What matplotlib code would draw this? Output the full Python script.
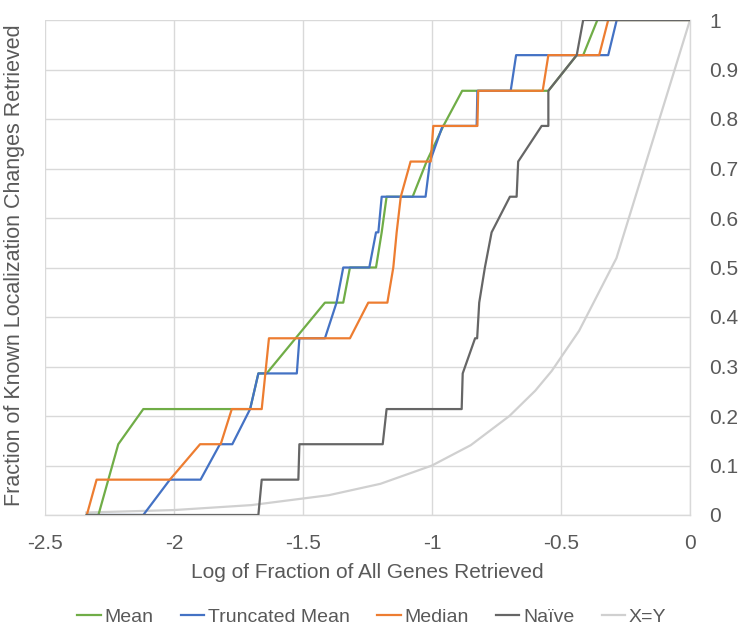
import matplotlib
matplotlib.use("Agg")
import matplotlib.pyplot as plt
from matplotlib import font_manager

# ---- data ----
mean_x = [-2.338, -2.293, -2.216, -2.119, -1.705, -1.673, -1.641, -1.415, -1.344, -1.318, -1.217,
          -1.195, -1.176, -1.075, -1.021, -0.956, -0.883, -0.549, -0.439, -0.414, -0.359, 0.0]
mean_y = [0, 0, 0.143, 0.214, 0.214, 0.286, 0.286, 0.429, 0.429, 0.5, 0.5,
          0.571, 0.643, 0.643, 0.714, 0.786, 0.857, 0.857, 0.929, 0.929, 1.0, 1.0]

trunc_x = [-2.338, -2.119, -2.016, -1.897, -1.822, -1.774, -1.705, -1.673, -1.524, -1.514, -1.415,
           -1.370, -1.344, -1.243, -1.217, -1.208, -1.195, -1.025, -1.008, -0.959, -0.827, -0.824,
           -0.695, -0.674, -0.317, -0.284, 0.0]
trunc_y = [0, 0, 0.0714, 0.0714, 0.143, 0.143, 0.214, 0.286, 0.286, 0.357, 0.357,
           0.429, 0.5, 0.5, 0.571, 0.571, 0.643, 0.643, 0.714, 0.786, 0.786, 0.857,
           0.857, 0.929, 0.929, 1.0, 1.0]

median_x = [-2.338, -2.300, -2.016, -1.899, -1.819, -1.776, -1.660, -1.632, -1.318, -1.247, -1.173,
            -1.150, -1.137, -1.121, -1.083, -1.005, -0.995, -0.824, -0.821, -0.571, -0.549, -0.352,
            -0.317, 0.0]
median_y = [0, 0.0714, 0.0714, 0.143, 0.143, 0.214, 0.214, 0.357, 0.357, 0.429, 0.429,
            0.5, 0.571, 0.643, 0.714, 0.714, 0.786, 0.786, 0.857, 0.857, 0.929, 0.929,
            1.0, 1.0]

naive_x = [-2.338, -1.673, -1.660, -1.518, -1.514, -1.191, -1.176, -0.885, -0.881, -0.833, -0.825,
           -0.817, -0.795, -0.769, -0.698, -0.672, -0.666, -0.575, -0.549, -0.549, -0.439, -0.414, 0.0]
naive_y = [0, 0, 0.0714, 0.0714, 0.143, 0.143, 0.214, 0.214, 0.286, 0.357, 0.357,
           0.429, 0.5, 0.571, 0.643, 0.643, 0.714, 0.786, 0.786, 0.857, 0.929, 1.0, 1.0]

xy_x = [-2.34, -2.0, -1.7, -1.4, -1.2, -1.0, -0.85, -0.7, -0.6, -0.536, -0.43, -0.285, 0.0]
xy_y = [0.005, 0.010, 0.020, 0.040, 0.063, 0.100, 0.141, 0.200, 0.251, 0.291, 0.372, 0.519, 1.0]

x_ticks = [-2.5, -2, -1.5, -1, -0.5, 0]
x_tick_labels = ["-2.5", "-2", "-1.5", "-1", "-0.5", "0"]
y_ticks = [0, 0.1, 0.2, 0.3, 0.4, 0.5, 0.6, 0.7, 0.8, 0.9, 1.0]
y_tick_labels = ["0", "0.1", "0.2", "0.3", "0.4", "0.5", "0.6", "0.7", "0.8", "0.9", "1"]

# ---- style ----
names = {f.name for f in font_manager.fontManager.ttflist}
fam = ["Liberation Sans Narrow"] if "Liberation Sans Narrow" in names else ["Liberation Sans"]
plt.rcParams["font.family"] = fam + ["DejaVu Sans"]
txt = "#595959"

fig = plt.figure(figsize=(7.45, 6.42), dpi=100)
ax = fig.add_axes([45 / 745, 1 - 515 / 642, 645 / 745, 495 / 642])

lw = 1.6
ax.plot(mean_x, mean_y, color="#70AD47", lw=lw, label="Mean", zorder=3)
ax.plot(trunc_x, trunc_y, color="#4472C4", lw=lw, label="Truncated Mean", zorder=3)
ax.plot(median_x, median_y, color="#ED7D31", lw=lw, label="Median", zorder=3)
ax.plot(naive_x, naive_y, color="#666666", lw=lw, label="Naïve", zorder=4)
ax.plot(xy_x, xy_y, color="#D0D0D0", lw=lw, label="X=Y", zorder=2)

ax.set_xlim(-2.5, 0)
ax.set_ylim(0, 1)
ax.set_xticks(x_ticks)
ax.set_xticklabels(x_tick_labels)
ax.set_yticks(y_ticks)
ax.set_yticklabels(y_tick_labels)
ax.yaxis.tick_right()
ax.tick_params(axis="both", length=0, labelsize=15, colors=txt)
ax.tick_params(axis="x", pad=14)
ax.tick_params(axis="y", pad=14)
ax.grid(True, color="#D9D9D9", lw=1)
ax.set_axisbelow(True)
for s in ["top", "left"]:
    ax.spines[s].set_visible(False)
for s in ["right", "bottom"]:
    ax.spines[s].set_color("#D9D9D9")
    ax.spines[s].set_linewidth(1)

ax.set_xlabel("Log of Fraction of All Genes Retrieved", fontsize=15, color=txt, labelpad=7)
fig.text(15 / 745, 1 - 265 / 642, "Fraction of Known Localization Changes Retrieved",
         rotation=90, ha="center", va="center", fontsize=15.5, color=txt)

leg = fig.legend(loc="center", bbox_to_anchor=(372 / 745, 1 - 617 / 642), ncol=5,
                 frameon=False, fontsize=14, handlelength=1.2, handletextpad=0.2,
                 columnspacing=1.4, labelcolor=txt)

fig.savefig("out.png", dpi=100)
